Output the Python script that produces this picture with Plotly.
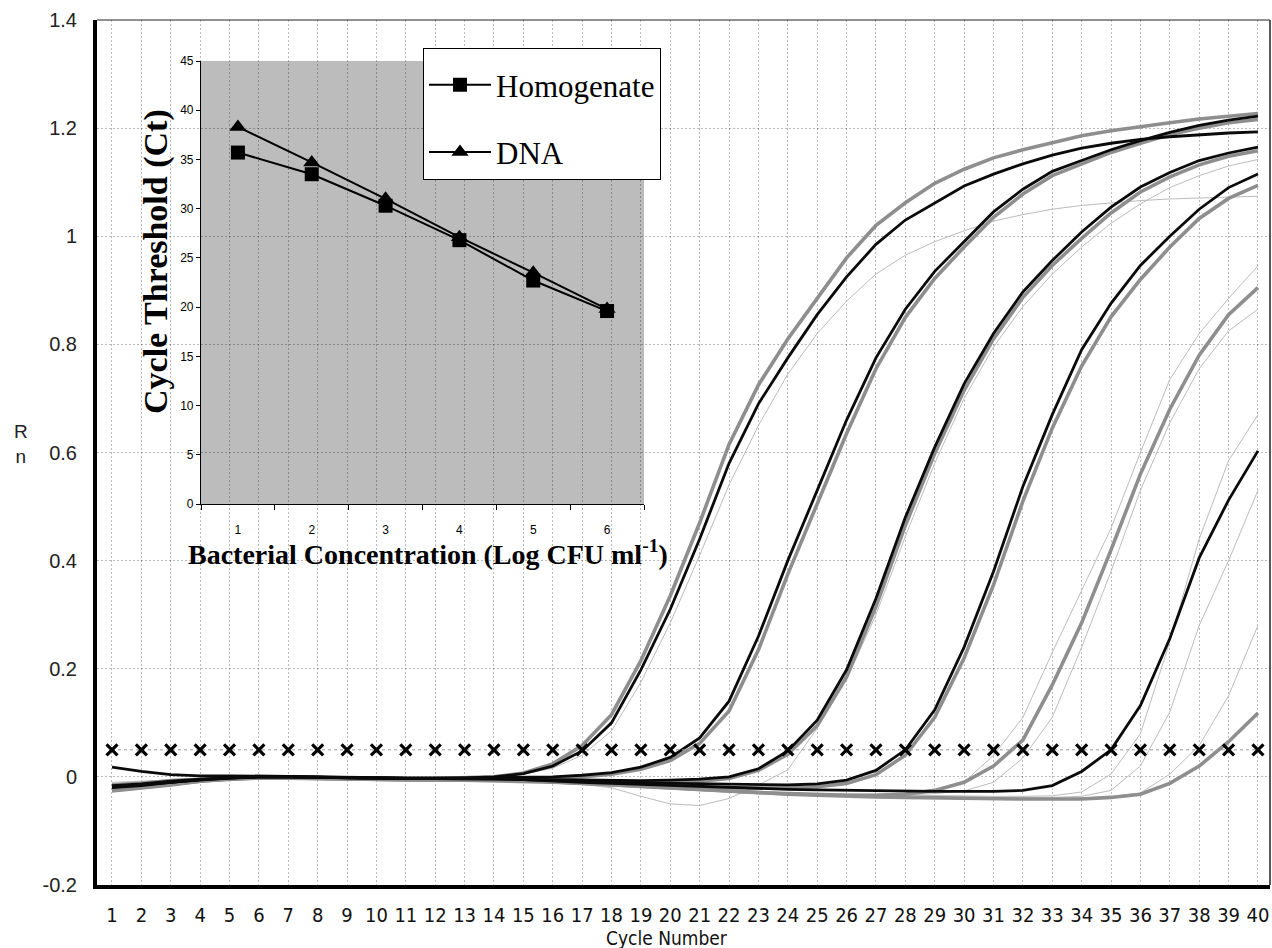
import plotly.graph_objects as go

# ---------------- main amplification plot data ----------------
cycles = list(range(1, 41))
cycle_labels = [str(c) for c in cycles]

black_a = [0.018, 0.010, 0.004, 0.002, 0.002, 0.002, 0.001, 0.000, -0.001, -0.002,
           -0.002, -0.002, -0.002, 0.000, 0.006, 0.020, 0.048, 0.100, 0.198, 0.310,
           0.440, 0.580, 0.690, 0.775, 0.855, 0.925, 0.985, 1.030, 1.062, 1.093,
           1.115, 1.134, 1.150, 1.163, 1.172, 1.179, 1.184, 1.188, 1.191, 1.193]
gray_a = [-0.015, -0.012, -0.007, -0.004, -0.002, 0.000, 0.000, 0.000, -0.002, -0.003,
          -0.003, -0.003, -0.002, 0.000, 0.007, 0.024, 0.058, 0.115, 0.215, 0.335,
          0.470, 0.615, 0.725, 0.810, 0.885, 0.960, 1.020, 1.062, 1.098, 1.124,
          1.145, 1.160, 1.173, 1.186, 1.195, 1.203, 1.210, 1.217, 1.222, 1.227]
black_b = [-0.020, -0.016, -0.010, -0.005, -0.002, 0.000, 0.000, -0.001, -0.002, -0.003,
           -0.003, -0.003, -0.002, -0.001, -0.001, 0.000, 0.003, 0.008, 0.018, 0.036,
           0.072, 0.140, 0.260, 0.400, 0.530, 0.660, 0.775, 0.865, 0.935, 0.990,
           1.045, 1.087, 1.120, 1.140, 1.160, 1.177, 1.192, 1.205, 1.215, 1.222]
gray_b = [-0.022, -0.018, -0.012, -0.006, -0.003, -0.001, -0.001, -0.002, -0.003, -0.004,
          -0.004, -0.004, -0.003, -0.002, -0.002, -0.002, 0.000, 0.005, 0.014, 0.030,
          0.062, 0.122, 0.235, 0.375, 0.505, 0.635, 0.755, 0.850, 0.922, 0.980,
          1.035, 1.078, 1.112, 1.134, 1.155, 1.172, 1.188, 1.200, 1.210, 1.216]
black_c = [-0.018, -0.014, -0.009, -0.005, -0.002, 0.000, 0.000, -0.001, -0.002, -0.003,
           -0.003, -0.003, -0.003, -0.003, -0.004, -0.005, -0.006, -0.007, -0.007, -0.006,
           -0.004, 0.000, 0.015, 0.048, 0.105, 0.198, 0.330, 0.480, 0.610, 0.727,
           0.820, 0.897, 0.955, 1.008, 1.054, 1.091, 1.118, 1.140, 1.154, 1.165]
gray_c = [-0.024, -0.019, -0.013, -0.007, -0.004, -0.002, -0.002, -0.003, -0.004, -0.005,
          -0.005, -0.005, -0.005, -0.005, -0.006, -0.007, -0.008, -0.009, -0.010, -0.010,
          -0.008, -0.003, 0.012, 0.042, 0.095, 0.185, 0.315, 0.465, 0.598, 0.715,
          0.810, 0.887, 0.946, 0.996, 1.043, 1.082, 1.110, 1.132, 1.148, 1.158]
black_d = [-0.016, -0.013, -0.008, -0.004, -0.002, 0.000, 0.000, -0.001, -0.002, -0.003,
           -0.003, -0.003, -0.003, -0.004, -0.005, -0.007, -0.008, -0.010, -0.011, -0.012,
           -0.013, -0.014, -0.015, -0.015, -0.013, -0.006, 0.012, 0.050, 0.124, 0.240,
           0.380, 0.537, 0.670, 0.790, 0.876, 0.946, 1.000, 1.050, 1.090, 1.115]
gray_d = [-0.025, -0.020, -0.014, -0.008, -0.004, -0.002, -0.002, -0.003, -0.004, -0.005,
          -0.005, -0.006, -0.006, -0.007, -0.008, -0.010, -0.012, -0.014, -0.016, -0.018,
          -0.019, -0.020, -0.021, -0.021, -0.018, -0.012, 0.004, 0.040, 0.110, 0.220,
          0.355, 0.510, 0.645, 0.760, 0.851, 0.920, 0.980, 1.033, 1.070, 1.094]
gray_e = [-0.023, -0.019, -0.013, -0.007, -0.003, -0.001, -0.001, -0.002, -0.003, -0.004,
          -0.004, -0.005, -0.005, -0.005, -0.006, -0.009, -0.012, -0.015, -0.018, -0.021,
          -0.024, -0.027, -0.029, -0.031, -0.033, -0.034, -0.034, -0.032, -0.025, -0.010,
          0.020, 0.068, 0.170, 0.285, 0.420, 0.560, 0.680, 0.780, 0.855, 0.905]
black_f = [-0.019, -0.015, -0.010, -0.005, -0.002, 0.000, 0.000, -0.001, -0.002, -0.003,
           -0.003, -0.003, -0.003, -0.003, -0.005, -0.008, -0.010, -0.012, -0.014, -0.016,
           -0.018, -0.020, -0.022, -0.023, -0.024, -0.025, -0.026, -0.027, -0.027, -0.027,
           -0.027, -0.025, -0.016, 0.010, 0.050, 0.132, 0.256, 0.405, 0.512, 0.603]
gray_g = [-0.026, -0.021, -0.015, -0.008, -0.004, -0.002, -0.002, -0.003, -0.004, -0.005,
          -0.005, -0.005, -0.005, -0.005, -0.006, -0.009, -0.012, -0.015, -0.018, -0.021,
          -0.024, -0.027, -0.030, -0.032, -0.034, -0.036, -0.037, -0.038, -0.039, -0.040,
          -0.040, -0.041, -0.041, -0.041, -0.038, -0.032, -0.012, 0.020, 0.065, 0.118]

thin_1 = [-0.010, -0.008, -0.005, -0.003, -0.001, 0.000, 0.000, 0.000, -0.001, -0.002,
          -0.002, -0.002, -0.001, 0.000, 0.005, 0.016, 0.040, 0.085, 0.175, 0.285,
          0.410, 0.540, 0.650, 0.745, 0.820, 0.880, 0.930, 0.965, 0.990, 1.010,
          1.028, 1.040, 1.050, 1.057, 1.062, 1.066, 1.069, 1.071, 1.073, 1.074]
thin_2 = [-0.012, -0.010, -0.007, -0.004, -0.002, -0.001, -0.001, -0.002, -0.003, -0.004,
          -0.004, -0.004, -0.004, -0.005, -0.007, -0.010, -0.014, -0.020, -0.036, -0.050,
          -0.053, -0.040, -0.015, 0.013, 0.090, 0.180, 0.300, 0.445, 0.580, 0.700,
          0.795, 0.870, 0.930, 0.980, 1.024, 1.060, 1.090, 1.112, 1.130, 1.142]
thin_3 = [-0.018, -0.015, -0.010, -0.006, -0.003, -0.001, -0.001, -0.002, -0.003, -0.004,
          -0.004, -0.004, -0.004, -0.005, -0.007, -0.010, -0.013, -0.016, -0.019, -0.022,
          -0.024, -0.026, -0.028, -0.030, -0.031, -0.032, -0.032, -0.030, -0.024, -0.010,
          0.040, 0.110, 0.230, 0.345, 0.460, 0.600, 0.735, 0.820, 0.885, 0.945]
thin_4 = [-0.017, -0.014, -0.009, -0.005, -0.002, -0.001, -0.001, -0.002, -0.003, -0.004,
          -0.004, -0.004, -0.005, -0.005, -0.007, -0.010, -0.013, -0.016, -0.019, -0.022,
          -0.025, -0.027, -0.029, -0.031, -0.032, -0.033, -0.034, -0.033, -0.031, -0.026,
          -0.010, 0.035, 0.110, 0.240, 0.380, 0.530, 0.655, 0.755, 0.825, 0.865]
thin_5 = [-0.016, -0.013, -0.009, -0.005, -0.002, -0.001, -0.001, -0.002, -0.003, -0.004,
          -0.004, -0.004, -0.004, -0.005, -0.007, -0.010, -0.013, -0.016, -0.019, -0.022,
          -0.024, -0.026, -0.028, -0.030, -0.031, -0.032, -0.033, -0.034, -0.035, -0.035,
          -0.036, -0.036, -0.035, -0.028, 0.005, 0.080, 0.250, 0.440, 0.585, 0.670]
thin_6 = [-0.018, -0.015, -0.010, -0.006, -0.003, -0.001, -0.001, -0.002, -0.003, -0.004,
          -0.004, -0.005, -0.005, -0.005, -0.007, -0.010, -0.013, -0.016, -0.019, -0.022,
          -0.025, -0.027, -0.029, -0.031, -0.033, -0.034, -0.035, -0.036, -0.037, -0.037,
          -0.038, -0.038, -0.038, -0.036, -0.025, 0.020, 0.120, 0.280, 0.400, 0.530]
thin_7 = [-0.020, -0.016, -0.011, -0.006, -0.003, -0.001, -0.001, -0.002, -0.003, -0.004,
          -0.004, -0.005, -0.005, -0.005, -0.007, -0.010, -0.013, -0.016, -0.019, -0.022,
          -0.025, -0.028, -0.030, -0.032, -0.034, -0.035, -0.036, -0.037, -0.038, -0.039,
          -0.039, -0.040, -0.040, -0.039, -0.036, -0.030, 0.005, 0.058, 0.150, 0.280]

threshold = [0.05, 0.05, 0.05, 0.05, 0.05, 0.05, 0.05, 0.05, 0.05, 0.05,
             0.05, 0.05, 0.05, 0.05, 0.05, 0.05, 0.05, 0.05, 0.05, 0.05,
             0.05, 0.05, 0.05, 0.05, 0.05, 0.05, 0.05, 0.05, 0.05, 0.05,
             0.05, 0.05, 0.05, 0.05, 0.05, 0.05, 0.05, 0.05, 0.05, 0.05]

y_ticks = [-0.2, 0, 0.2, 0.4, 0.6, 0.8, 1.0, 1.2, 1.4]
y_tick_labels = ["-0.2", "0", "0.2", "0.4", "0.6", "0.8", "1", "1.2", "1.4"]

# ---------------- inset standard curve data ----------------
log_conc = [1, 2, 3, 4, 5, 6]
homogenate_ct = [35.7, 33.5, 30.3, 26.8, 22.7, 19.6]
dna_ct = [38.3, 34.7, 31.0, 27.1, 23.5, 19.8]
inset_y_ticks = [0, 5, 10, 15, 20, 25, 30, 35, 40, 45]
inset_minor_ticks = [0.5, 1.5, 2.5, 3.5, 4.5, 5.5, 6.5]

# ---------------- styling ----------------
BLACK = "#0a0a0a"
GRAY = "#8e8e8e"
THIN = "#bcbcbc"
GRID = "rgba(0,0,0,0.27)"
SANS = "Liberation Sans, Arial, sans-serif"
NARROW = "Liberation Sans Narrow, DejaVu Sans Condensed, Liberation Sans, sans-serif"
SERIF = "Liberation Serif, Times New Roman, serif"

fig = go.Figure()

for ys in [thin_1, thin_2, thin_3, thin_4, thin_5, thin_6, thin_7]:
    fig.add_trace(go.Scatter(x=cycles, y=ys, mode="lines",
                             line=dict(color=THIN, width=1), showlegend=False,
                             hoverinfo="skip"))
for ys in [gray_a, gray_b, gray_c, gray_d, gray_e, gray_g]:
    fig.add_trace(go.Scatter(x=cycles, y=ys, mode="lines",
                             line=dict(color=GRAY, width=3.6), showlegend=False,
                             hoverinfo="skip"))
for ys in [black_a, black_b, black_c, black_d, black_f]:
    fig.add_trace(go.Scatter(x=cycles, y=ys, mode="lines",
                             line=dict(color=BLACK, width=2.8), showlegend=False,
                             hoverinfo="skip"))

fig.add_trace(go.Scatter(x=cycles, y=threshold, mode="lines+markers",
                         line=dict(color="#9a9a9a", width=1, dash="dot"),
                         marker=dict(symbol="x-thin", size=11,
                                     line=dict(color="black", width=3.2)),
                         showlegend=False, hoverinfo="skip"))

# inset traces
fig.add_trace(go.Scatter(x=log_conc, y=homogenate_ct, mode="lines+markers",
                         name="Homogenate", xaxis="x2", yaxis="y2",
                         line=dict(color="black", width=2),
                         marker=dict(symbol="square", size=14, color="black"),
                         legendgroup="h"))
fig.add_trace(go.Scatter(x=log_conc, y=dna_ct, mode="lines+markers",
                         name="DNA", xaxis="x2", yaxis="y2",
                         line=dict(color="black", width=2),
                         marker=dict(symbol="triangle-up", size=15, color="black"),
                         legendgroup="d"))

# layout geometry (pixels of the 1272x948 page)
L, R, T, B = 97, 2, 20, 63
W, H = 1272, 948
pw, ph = W - L - R, H - T - B


def px_x(p):
    return (p - L) / pw


def px_y(p):
    return (H - B - p) / ph


inset_x = [px_x(201), px_x(644)]
inset_y = [px_y(504), px_y(61)]

fig.update_layout(
    width=W, height=H,
    margin=dict(l=L, r=R, t=T, b=B),
    paper_bgcolor="white",
    plot_bgcolor="rgba(0,0,0,0)",
    showlegend=True,
    xaxis=dict(range=[0.49, 40.41], tickmode="array", tickvals=cycles,
               ticktext=cycle_labels, ticks="", ticklabelstandoff=9,
               tickfont=dict(family=NARROW, size=20, color="#111"),
               showgrid=True, gridcolor=GRID, gridwidth=1, griddash="2px,2px",
               zeroline=False, showline=True, linewidth=4, linecolor="black"),
    yaxis=dict(range=[-0.2, 1.4], tickmode="array", tickvals=y_ticks,
               ticktext=y_tick_labels, ticks="", ticklabelstandoff=12,
               tickfont=dict(family=SANS, size=20, color="#222"),
               showgrid=True, gridcolor=GRID, gridwidth=1, griddash="2px,2px",
               zeroline=False, showline=True, linewidth=4, linecolor="black"),
    xaxis2=dict(domain=inset_x, anchor="y2", range=[0.5, 6.5], tickmode="array",
                tickvals=log_conc, ticks="", ticklabelstandoff=14,
                tickfont=dict(family=SANS, size=12, color="black"),
                minor=dict(tickmode="array", tickvals=inset_minor_ticks,
                           ticks="outside", ticklen=5, tickcolor="black", showgrid=False),
                showgrid=False, zeroline=False, showline=True, linewidth=1.2,
                linecolor="black"),
    yaxis2=dict(domain=inset_y, anchor="x2", range=[0, 45], tickmode="array",
                tickvals=inset_y_ticks, ticks="outside", ticklen=4, tickcolor="black",
                tickfont=dict(family=SANS, size=12, color="black"),
                showgrid=False, zeroline=False, showline=True, linewidth=1.2,
                linecolor="black"),
    legend=dict(x=px_x(423), y=px_y(48), xanchor="left", yanchor="top",
                bgcolor="white", bordercolor="black", borderwidth=1,
                font=dict(family=SERIF, size=31, color="black"),
                title=dict(text="\u200b", font=dict(size=7)),
                itemwidth=62, tracegroupgap=24, traceorder="grouped"),
    shapes=[
        dict(type="rect", xref="paper", yref="paper", x0=inset_x[0], x1=inset_x[1],
             y0=inset_y[0], y1=inset_y[1], fillcolor="#bcbcbc", line=dict(width=0),
             layer="below"),
        dict(type="line", xref="paper", yref="paper", x0=0, x1=1, y0=1, y1=1,
             line=dict(color="#222", width=1.2)),
        dict(type="line", xref="paper", yref="paper", x0=1, x1=1, y0=0, y1=1,
             line=dict(color="#222", width=1.5)),
    ],
    annotations=[
        dict(text="Cycle Number", xref="paper", yref="paper", x=px_x(667), y=px_y(938),
             xanchor="center", yanchor="middle", showarrow=False,
             font=dict(family=NARROW, size=19, color="#111")),
        dict(text="R<br>n", xref="paper", yref="paper", x=px_x(21), y=px_y(444),
             xanchor="center", yanchor="middle", showarrow=False,
             font=dict(family=SANS, size=19, color="#222")),
        dict(text="<b>Cycle Threshold (Ct)</b>", xref="paper", yref="paper",
             x=px_x(156), y=px_y(262), xanchor="center", yanchor="middle",
             textangle=-90, showarrow=False,
             font=dict(family=SERIF, size=34, color="black")),
        dict(text="<b>Bacterial Concentration (Log CFU ml<sup>-1</sup>)</b>",
             xref="paper", yref="paper", x=px_x(428), y=px_y(552),
             xanchor="center", yanchor="middle", showarrow=False,
             font=dict(family=SERIF, size=28, color="black")),
    ],
)

fig.write_html("out.html", config={"displayModeBar": False},
               post_script="document.body.style.margin='0px';")
